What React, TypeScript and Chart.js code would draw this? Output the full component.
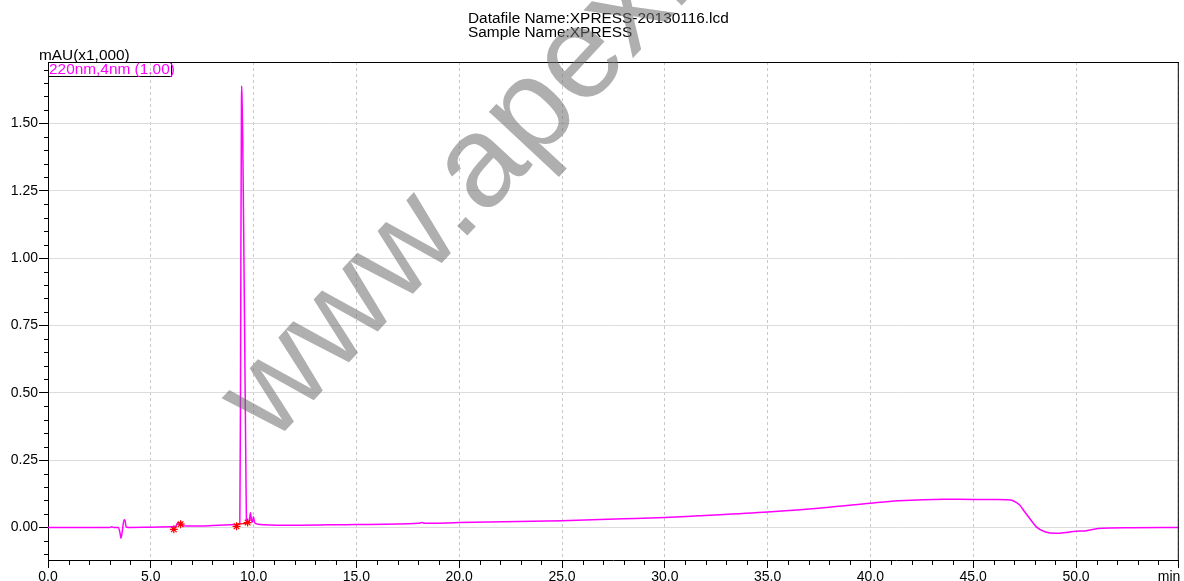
import React, { useEffect, useRef } from 'react';
import { Chart, registerables } from 'chart.js';

Chart.register(...registerables);

const FONT = '"Liberation Sans", Arial, Helvetica, sans-serif';

// ---- texts ----
const titleLines = ['Datafile Name:XPRESS-20130116.lcd', 'Sample Name:XPRESS'];
const yAxisTitle = 'mAU(x1,000)';
const xAxisUnit = 'min';
const legendLabel = '220nm,4nm (1.00)';
const watermarkText = 'www.apexbt.com';

// ---- axes ----
const xMin = 0;
const xMax = 55;
const xStep = 5;
const xMinorStep = 1;
const yMin = -0.121;
const yMax = 1.728;
const yStep = 0.25;
const yMinorStep = 0.05;

// ---- chromatogram (time in min, signal in mAU x1,000) ----
const times = [
  0, 3.0, 3.1, 3.2, 3.42, 3.5, 3.55, 3.62, 3.7, 3.75, 3.8, 3.9,
  5.0, 6.0, 6.2, 6.33, 6.4, 6.47, 6.55, 7.0, 8.0, 8.9, 9.2, 9.33,
  9.36, 9.385, 9.41, 9.42, 9.44, 9.47, 9.53, 9.59, 9.62, 9.65, 9.7, 9.78,
  9.85, 9.9, 9.95, 9.99, 10.05, 10.2, 10.5, 12.0, 15.0, 18.0, 18.2, 18.3,
  20.0, 25.0, 28.0, 30.0, 31.6, 35.0, 38.0, 40.0, 41.35, 43.6, 45.0, 46.2,
  46.6, 46.94, 47.26, 47.5, 47.75, 48.07, 48.48, 49.04, 49.5, 50.0, 50.42, 51.07,
  52.7, 55.0,
];
const signal = [
  0, 0, 0.002, 0, 0, -0.02, -0.04, -0.01, 0.028, 0.025, 0.002, 0,
  0.001, 0.002, 0.003, 0.018, 0.012, 0.02, 0.006, 0.005, 0.007, 0.01, 0.011, 0.013,
  0.45, 1.1, 1.58, 1.639, 1.58, 1.45, 1.0, 0.5, 0.25, 0.03, 0.016, 0.02,
  0.054, 0.025, 0.02, 0.04, 0.018, 0.012, 0.01, 0.008, 0.011, 0.015, 0.018, 0.015,
  0.018, 0.025, 0.032, 0.037, 0.043, 0.057, 0.075, 0.09, 0.099, 0.105, 0.104, 0.104,
  0.103, 0.099, 0.083, 0.058, 0.033, 0.002, -0.016, -0.022, -0.019, -0.014, -0.013, -0.004,
  -0.001, 0,
];

// ---- integration marks ----
const markerTimes = [6.12, 6.45, 9.17, 9.71];
const markerValues = [-0.007, 0.012, 0.004, 0.018];
const baselineTimes = [9.17, 9.71];
const baselineValues = [0.012, 0.015];

const decorPlugin = {
  id: 'decor',
  afterDraw(chart: any) {
    const { ctx, chartArea: a, scales } = chart;
    const xs = scales.x;
    const ys = scales.y;
    ctx.save();

    // frame (top & right)
    ctx.strokeStyle = '#000';
    ctx.lineWidth = 1;
    ctx.beginPath();
    ctx.moveTo(a.left, a.top + 0.5);
    ctx.lineTo(a.right, a.top + 0.5);
    ctx.moveTo(a.right - 0.5, a.top);
    ctx.lineTo(a.right - 0.5, a.bottom);
    ctx.stroke();

    // minor ticks
    ctx.beginPath();
    const yFirst = Math.ceil(yMin / yMinorStep);
    const yLast = Math.floor(yMax / yMinorStep);
    for (let k = yFirst; k <= yLast; k++) {
      if (k % Math.round(yStep / yMinorStep) === 0) continue;
      const py = Math.round(ys.getPixelForValue(k * yMinorStep)) + 0.5;
      ctx.moveTo(a.left - 4, py);
      ctx.lineTo(a.left, py);
    }
    const xFirst = Math.ceil(xMin / xMinorStep);
    const xLast = Math.floor(xMax / xMinorStep);
    for (let k = xFirst; k <= xLast; k++) {
      if (k % Math.round(xStep / xMinorStep) === 0) continue;
      const px = Math.round(xs.getPixelForValue(k * xMinorStep)) + 0.5;
      ctx.moveTo(px, a.bottom);
      ctx.lineTo(px, a.bottom + 5);
    }
    ctx.stroke();

    const drawText = (t: string, x: number, y: number, color: string) => {
      ctx.save();
      ctx.translate(x, y);
      ctx.scale(1.1, 1);
      ctx.fillStyle = color;
      ctx.font = `14px ${FONT}`;
      ctx.textBaseline = 'alphabetic';
      ctx.textAlign = 'left';
      ctx.fillText(t, 0, 0);
      ctx.restore();
    };

    // title
    drawText(titleLines[0], 468, 23, '#000');
    drawText(titleLines[1], 468, 37, '#000');
    // y axis title
    drawText(yAxisTitle, 39, 60, '#000');

    // legend box
    ctx.strokeStyle = '#000';
    ctx.lineWidth = 1;
    ctx.strokeRect(a.left + 0.5, a.top + 0.5, 123, 14);
    drawText(legendLabel, a.left + 1, a.top + 12, '#ff00ff');

    // watermark
    ctx.save();
    ctx.translate(272, 445);
    ctx.rotate((-47 * Math.PI) / 180);
    ctx.font = `130px ${FONT}`;
    ctx.fillStyle = 'rgba(110,110,110,0.55)';
    ctx.textBaseline = 'alphabetic';
    ctx.textAlign = 'left';
    ctx.fillText(watermarkText, 0, 0);
    ctx.restore();

    ctx.restore();
  },
};

export default function App() {
  const canvasRef = useRef<HTMLCanvasElement | null>(null);

  useEffect(() => {
    const canvas = canvasRef.current;
    if (!canvas) return;
    const chart = new Chart(canvas, {
      type: 'line',
      data: {
        datasets: [
          {
            type: 'scatter',
            data: markerTimes.map((t, i) => ({ x: t, y: markerValues[i] })),
            pointStyle: 'star',
            pointRadius: 4,
            borderColor: '#ff0000',
            backgroundColor: '#ff0000',
            borderWidth: 1.2,
            showLine: false,
          } as any,
          {
            data: baselineTimes.map((t, i) => ({ x: t, y: baselineValues[i] })),
            borderColor: '#ff0000',
            borderWidth: 1.3,
            pointRadius: 0,
            fill: false,
          },
          {
            data: times.map((t, i) => ({ x: t, y: signal[i] })),
            borderColor: '#ff00ff',
            borderWidth: 1.5,
            pointRadius: 0,
            fill: false,
            cubicInterpolationMode: 'monotone',
          },
        ],
      },
      options: {
        animation: false,
        responsive: false,
        layout: { padding: { top: 62, right: 3, left: 0, bottom: 0 } },
        plugins: {
          legend: { display: false },
          title: { display: false },
          tooltip: { enabled: false },
        },
        scales: {
          x: {
            type: 'linear',
            min: xMin,
            max: xMax,
            afterFit: (s: any) => {
              s.height = 21;
              s.paddingLeft = 0;
              s.paddingRight = 0;
            },
            ticks: {
              stepSize: xStep,
              autoSkip: false,
              maxRotation: 0,
              minRotation: 0,
              includeBounds: false,
              padding: 1,
              color: '#000',
              font: { family: FONT, size: 14 },
              callback: (v: any) =>
                Math.abs(Number(v) - xMax) < 1e-6 ? xAxisUnit + '     ' : Number(v).toFixed(1),
            },
            grid: { color: '#c8c8c8', tickColor: '#000', tickLength: 8, lineWidth: 1 },
            border: { display: true, color: '#000', width: 1, dash: [3, 3] },
          },
          y: {
            type: 'linear',
            min: yMin,
            max: yMax,
            afterFit: (s: any) => {
              s.width = 48;
              s.paddingTop = 0;
              s.paddingBottom = 0;
            },
            ticks: {
              stepSize: yStep,
              includeBounds: false,
              padding: 1,
              color: '#000',
              font: { family: FONT, size: 14 },
              callback: (v: any) => Number(v).toFixed(2),
            },
            grid: { color: '#dcdcdc', tickColor: '#000', tickLength: 9, lineWidth: 1 },
            border: { display: true, color: '#000', width: 1 },
          },
        },
      } as any,
      plugins: [decorPlugin],
    });
    return () => chart.destroy();
  }, []);

  return (
    <div style={{ position: 'absolute', left: 0, top: 0, width: 1184, height: 581, background: '#fff' }}>
      <canvas ref={canvasRef} width={1184} height={581} style={{ display: 'block' }} />
    </div>
  );
}
